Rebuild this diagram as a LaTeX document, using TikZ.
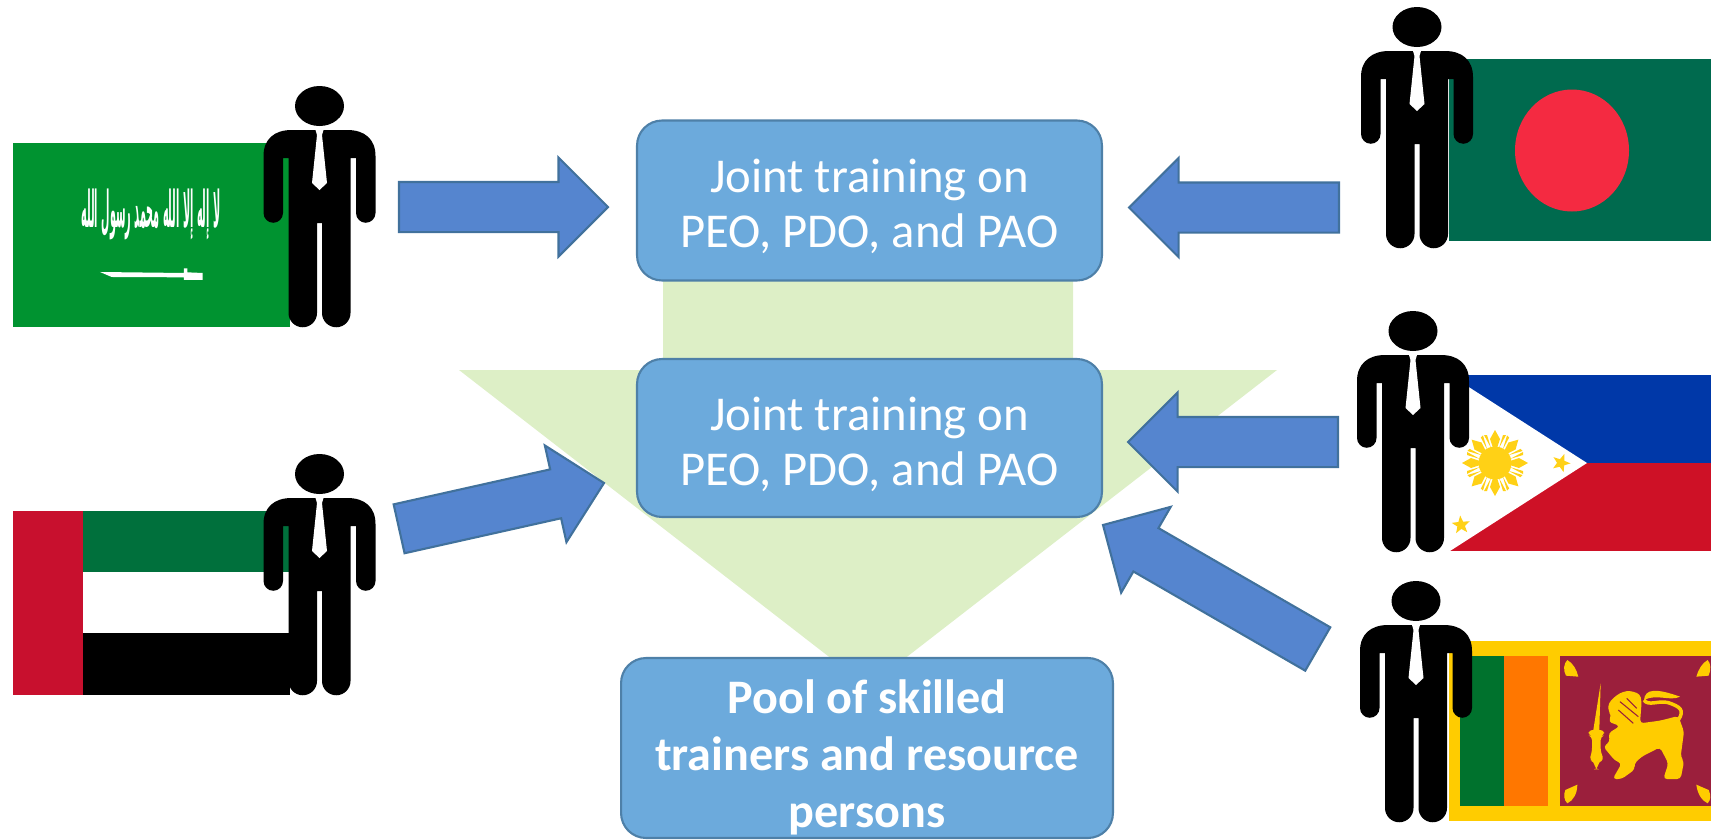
\documentclass[tikz,border=0pt]{standalone}
\usepackage{fontspec}
\setmainfont{Carlito}
\newfontfamily\arabicfont[Script=Arabic]{DejaVu Sans}
\TeXXeTstate=1
\usetikzlibrary{shapes.arrows,shapes.geometric}
\definecolor{boxblue}{RGB}{108,170,220}
\definecolor{boxedge}{RGB}{78,128,168}
\definecolor{arrowblue}{RGB}{85,133,207}
\definecolor{arrowedge}{RGB}{65,113,156}
\definecolor{palegreen}{RGB}{221,239,198}
\definecolor{saudigreen}{RGB}{0,147,48}
\definecolor{bdgreen}{RGB}{0,106,78}
\definecolor{bdred}{RGB}{244,42,65}
\definecolor{uaered}{RGB}{200,16,46}
\definecolor{uaegreen}{RGB}{0,112,60}
\definecolor{phblue}{RGB}{0,56,168}
\definecolor{phred}{RGB}{206,17,38}
\definecolor{phyellow}{RGB}{255,209,22}
\definecolor{lkgold}{RGB}{255,204,0}
\definecolor{lkgreen}{RGB}{0,114,45}
\definecolor{lkorange}{RGB}{255,119,0}
\definecolor{lkmaroon}{RGB}{155,31,60}
\tikzset{
    trainbox/.style={draw=boxedge,line width=1.2pt,fill=boxblue,rounded corners=0.5cm,
        minimum width=9.3cm,minimum height=3.2cm},
    boxtext/.style={text=white,align=center,inner sep=0pt,font=\fontsize{27.7}{31}\selectfont},
    pooltext/.style={boxtext,font=\fontsize{27.4}{32.5}\selectfont\bfseries},
    blockarrow/.style={single arrow,draw=arrowedge,line width=1.2pt,fill=arrowblue,inner xsep=0pt,inner ysep=0.48cm,outer sep=0pt,
        anchor=tip,single arrow head extend=0.49cm,single arrow tip angle=90},
    flagstar/.style={star,star points=5,star point ratio=2.4,fill=phyellow,inner sep=0pt,minimum size=0.38cm},
    person/.pic={
        \fill[black] (0,0) ellipse (24.5 and 20);
        \fill[black] (-36.5,52) -- (-36.5,107) arc (0:180:9.75) -- (-56,50)
            .. controls (-56,33) and (-45,24) .. (-28,24) -- (28,24)
            .. controls (45,24) and (56,33) .. (56,50) -- (56,107) arc (0:180:9.75)
            -- (36.5,52) -- (31,52) -- (31,207) arc (0:180:14.25) -- (2.5,117) -- (-2.5,117)
            -- (-2.5,207) arc (0:180:14.25) -- (-31,52) -- cycle;
        \fill[white] (-4,24) -- (4,24) -- (2.5,29) -- (7.5,77) -- (0,84) -- (-7.5,77) -- (-2.5,29) -- cycle;
    }
}
\begin{document}
\begin{tikzpicture}[x=0.02cm,y=-0.02cm]
    \useasboundingbox (0,0) rectangle (1711,839);

    % Down arrow behind the boxes
    \fill[palegreen] (663,270) -- (1073,270) -- (1073,370) -- (1277,370) -- (868,687) -- (459,370) -- (663,370) -- cycle;

    % Boxes
    \node[trainbox] (jointtop) at (869.5,200.5) {};
    \node[boxtext] (jointtoptext) at (869.5,206.5) {Joint training on\\PEO, PDO, and PAO};
    \node[trainbox,minimum height=3.16cm] (jointmid) at (869.5,438) {};
    \node[boxtext] (jointmidtext) at (869.5,444.5) {Joint training on\\PEO, PDO, and PAO};
    \node[trainbox,minimum width=9.84cm,minimum height=3.6cm] (pool) at (867,748) {};
    \node[pooltext] (pooltext) at (867,757) {Pool of skilled\\trainers and resource\\persons};

    % Block arrows
    \node[blockarrow,minimum height=4.18cm] (arrowsa) at (608,207) {};
    \node[blockarrow,minimum height=4.2cm,rotate=180] (arrowbd) at (1129,207.5) {};
    \node[blockarrow,minimum height=4.2cm,rotate=180] (arrowph) at (1128,442) {};
    \node[blockarrow,minimum height=4.2cm,rotate=12.6] (arrowae) at (604,483) {};
    \node[blockarrow,minimum height=4.96cm,rotate=150] (arrowlk) at (1103,525) {};

    % Saudi Arabia
    \fill[saudigreen] (13,143) rectangle (290,327);
    \node[text=white,inner sep=0pt] (shahada) at (151,214)
        {\resizebox*{2.78cm}{1.02cm}{\arabicfont\bfseries\beginR لا إله إلا الله محمد رسول الله\endR}};
    \begin{scope}[shift={(0,70)},x=0.00667cm,y=-0.00667cm]
        \fill[white] (300,606) -- (552,609) -- (552,595) -- (562,595) -- (562,607) -- (608,609) -- (608,630)
            -- (562,630) -- (552,630) -- (552,622) -- (335,621) -- cycle;
    \end{scope}
    \pic at (319.5,106) {person};

    % United Arab Emirates
    \fill[uaegreen] (83,511) rectangle (290,572);
    \fill[white] (83,572) rectangle (290,633);
    \fill[black] (83,633) rectangle (290,695);
    \fill[uaered] (13,511) rectangle (83,695);
    \pic at (319.5,474) {person};

    % Bangladesh
    \fill[bdgreen] (1449,59) rectangle (1711,241);
    \fill[bdred] (1572,150.5) ellipse (57 and 61);
    \pic at (1417,27) {person};

    % Philippines
    \fill[phblue] (1450,375) rectangle (1711,463);
    \fill[phred] (1450,463) rectangle (1711,551);
    \fill[white] (1450,375) -- (1587,463) -- (1450,551) -- cycle;
    \foreach \a in {0,45,...,315} {
        \begin{scope}[shift={(1495,463)},rotate=\a]
            \fill[phyellow] (15,-2) -- (24,-5) -- (33,0) -- (24,5) -- (15,2) -- cycle;
            \fill[phyellow] (15,4) -- (28,8) -- (28,11) -- cycle;
            \fill[phyellow] (15,-4) -- (28,-8) -- (28,-11) -- cycle;
        \end{scope}
    }
    \fill[phyellow] (1495,463) circle (16.5);
    \node[flagstar,rotate=-20] (stareast) at (1561,463) {};
    \node[flagstar,rotate=5] (starsouth) at (1461,525) {};
    \pic at (1413,331) {person};

    % Sri Lanka
    \fill[lkgold] (1449,641) rectangle (1711,821);
    \fill[lkgreen] (1460,656) rectangle (1504,806);
    \fill[lkorange] (1504,656) rectangle (1548,806);
    \fill[lkmaroon] (1560,656) rectangle (1711,806);
    \begin{scope}[shift={(1340,560)},x=0.00667cm,y=-0.00667cm]
        % lion and sword
        \fill[lkgold,rounded corners=2pt] (805,430) -- (830,405) -- (850,395) -- (870,392) -- (900,402) -- (905,425)
            -- (900,490) -- (960,482) -- (1015,468) -- (1032,515) -- (1022,590) -- (1032,605) -- (1022,657) -- (970,657)
            -- (985,610) -- (960,562) -- (905,590) -- (882,612) -- (885,628) -- (845,657) -- (818,657) -- (845,610)
            -- (825,602) -- (790,560) -- (810,545) -- (805,520) -- (840,498) -- (805,485) -- (815,465) -- (805,455) -- cycle;
        \draw[lkmaroon,line width=0.6pt] (840,425) -- (895,470) (860,415) -- (890,445) (835,450) -- (880,490);
        \draw[lkgold,line width=2pt] (1015,480) .. controls (1035,450) and (1020,440) .. (985,428) .. controls (955,420) and (925,440) .. (912,420);
        \fill[lkgold] (912,420) .. controls (915,385) and (950,385) .. (1020,410) .. controls (990,425) and (950,400) .. (912,420) -- cycle;
        \fill[lkgold] (782,370) -- (778,510) -- (760,510) -- cycle;
        \fill[lkgold,rounded corners=2pt] (746,510) -- (792,510) -- (792,526) -- (782,530) -- (782,575) -- (792,600)
            -- (776,605) -- (772,628) -- (766,628) -- (762,605) -- (748,600) -- (756,575) -- (756,530) -- (746,526) -- cycle;
        % corner leaves
        \fill[lkgold] (715,350) -- (678,347) .. controls (668,330) and (672,310) .. (682,300) .. controls (700,310) and (710,330) .. (715,350) -- cycle;
        \fill[lkgold] (1069,350) -- (1106,347) .. controls (1113,330) and (1113,310) .. (1103,300) .. controls (1085,310) and (1075,330) .. (1069,350) -- cycle;
        \fill[lkgold] (712,674) -- (676,690) .. controls (670,705) and (672,720) .. (682,730) .. controls (700,722) and (712,700) .. (712,674) -- cycle;
        \fill[lkgold] (1069,674) -- (1106,690) .. controls (1113,705) and (1113,720) .. (1103,730) .. controls (1085,722) and (1072,700) .. (1069,674) -- cycle;
    \end{scope}
    \pic at (1416,601) {person};
\end{tikzpicture}
\end{document}
